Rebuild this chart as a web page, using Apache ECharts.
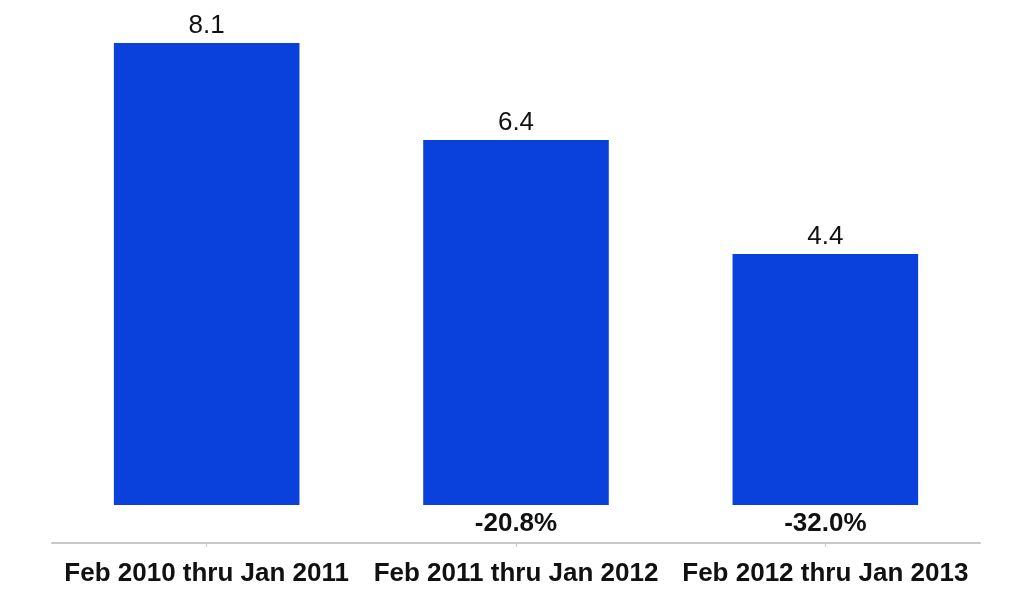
<!DOCTYPE html>
<html>
<head>
<meta charset="utf-8">
<script src="https://cdn.jsdelivr.net/npm/echarts@6/dist/echarts.min.js"></script>
<style>html,body{margin:0;padding:0;background:#fff;}#c{width:1024px;height:597px;}</style>
</head>
<body>
<div id="c"></div>
<script>
var categories = ['Feb 2010 thru Jan 2011', 'Feb 2011 thru Jan 2012', 'Feb 2012 thru Jan 2013'];
var values = [8.1, 6.4, 4.4];
var changes = ['', '-20.8%', '-32.0%'];

var chart = echarts.init(document.getElementById('c'));
chart.setOption({
  animation: false,
  backgroundColor: '#ffffff',
  grid: { left: 52, right: 44, top: 43, bottom: 54 },
  xAxis: {
    type: 'category',
    data: categories,
    axisLine: { show: true, onZero: false, lineStyle: { color: '#c8c8c8', width: 2 } },
    axisTick: { show: true, alignWithLabel: true, length: 4, lineStyle: { color: '#c8c8c8' } },
    axisLabel: { color: '#111', fontSize: 26, fontWeight: 'bold', fontFamily: 'Liberation Sans, Arial, sans-serif', margin: 18, interval: 0 }
  },
  yAxis: {
    type: 'value', min: -0.6667, max: 8.1,
    show: false, splitLine: { show: false }
  },
  series: [
    {
      type: 'bar',
      data: values,
      barCategoryGap: '40%',
      itemStyle: { color: '#0a41dc' },
      label: { show: true, position: 'top', distance: 4, color: '#111', fontSize: 26, fontFamily: 'Liberation Sans, Arial, sans-serif',
        formatter: function (p) { return p.value.toFixed(1); } }
    },
    {
      type: 'bar',
      data: values,
      barGap: '-100%',
      barCategoryGap: '40%',
      itemStyle: { color: 'rgba(0,0,0,0)' },
      silent: true,
      label: { show: true, position: 'bottom', distance: 6, color: '#111', fontSize: 26, fontWeight: 'bold', fontFamily: 'Liberation Sans, Arial, sans-serif',
        formatter: function (p) { return changes[p.dataIndex]; } }
    }
  ]
});
</script>
</body>
</html>
